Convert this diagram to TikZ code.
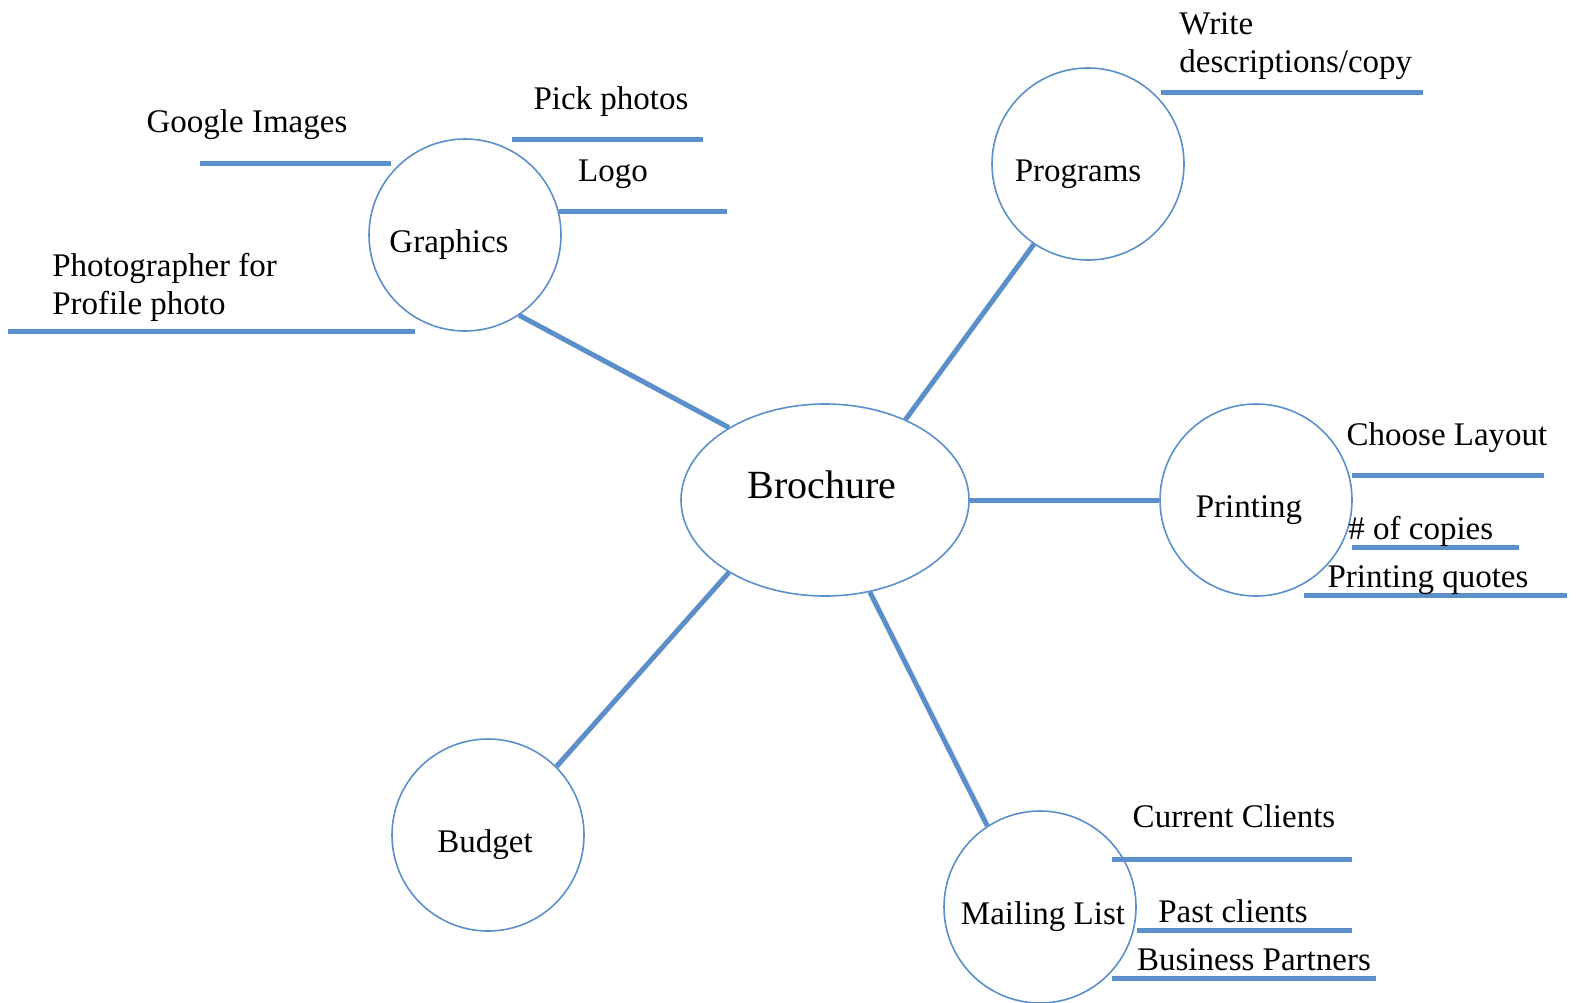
\documentclass[tikz,border=0pt]{standalone}
\usepackage{fontspec}
\setmainfont{Liberation Serif}
\usetikzlibrary{shapes}
\definecolor{mapblue}{RGB}{91,143,201}
\tikzset{
  topic/.style={draw=mapblue,line width=0.8pt,circle,minimum size=96pt,inner sep=0pt},
  hub/.style={draw=mapblue,line width=0.8pt,ellipse,minimum width=144pt,minimum height=96pt,inner sep=0pt},
  branch/.style={draw=mapblue,line width=2.5pt},
  bar/.style={draw=mapblue,line width=2.5pt},
  txt/.style={inner sep=0pt,font=\fontsize{16.5}{19}\selectfont},
  bigtxt/.style={inner sep=0pt,font=\fontsize{20}{24}\selectfont}
}

\begin{document}
\begin{tikzpicture}[x=0.5pt,y=-0.5pt]
\useasboundingbox (0,0) rectangle (1577,1002);

% main topic and sub topics:
\node[hub,label={[bigtxt,xshift=-1.5pt,yshift=7.5pt]center:Brochure}] (bro) at (825,500) {};
\node[topic,label={[txt,xshift=-8pt,yshift=-5pt]center:Graphics}] (gra) at (465,235) {};
\node[topic,label={[txt,xshift=-5pt,yshift=-5pt]center:Programs}] (pro) at (1088,164) {};
\node[topic,label={[txt,xshift=-3.5pt,yshift=-5pt]center:Printing}] (pri) at (1256,500) {};
\node[topic,label={[txt,xshift=-1.5pt,yshift=-5pt]center:Budget}] (bud) at (488,835) {};
\node[topic,label={[txt,xshift=1.5pt,yshift=-5pt]center:Mailing List}] (mai) at (1040,907) {};

% branches:
\draw[branch] (gra.-56) -- (bro.143);
\draw[branch] (pro.-124) -- (bro.45);
\draw[branch] (bro.east) -- (pri.west);
\draw[branch] (bro.-143) -- (bud.45);
\draw[branch] (bro.-64) -- (mai.123);

% graphics:
\draw[bar] (200,163) -- (391,163);
\node[txt,anchor=base] (goo) at (247,132) {Google Images};
\draw[bar] (512,139) -- (703,139);
\node[txt,anchor=base] (pic) at (611,109) {Pick photos};
\draw[bar] (559,211) -- (727,211);
\node[txt,anchor=base] (log) at (613,181) {Logo};
\draw[bar] (8,331) -- (415,331);
\node[txt,anchor=west,align=left] (pho) at (52,287) {Photographer for\\Profile photo};

% programs:
\draw[bar] (1161,92) -- (1423,92);
\node[txt,anchor=west,align=left] (wri) at (1179,46) {Write\\descriptions/copy};

% printing:
\draw[bar] (1352,475) -- (1544,475);
\node[txt,anchor=base] (lay) at (1447,445) {Choose Layout};
\draw[bar] (1352,547) -- (1519,547);
\node[txt,anchor=base west] (cop) at (1348,539) {\# of copies};
\draw[bar] (1304,595) -- (1567,595);
\node[txt,anchor=base] (quo) at (1428,587) {Printing quotes};

% mailing list:
\draw[bar] (1112,859) -- (1352,859);
\node[txt,anchor=base] (cur) at (1234,827) {Current Clients};
\draw[bar] (1137,930) -- (1352,930);
\node[txt,anchor=base] (pas) at (1233,922) {Past clients};
\draw[bar] (1112,978) -- (1376,978);
\node[txt,anchor=base] (bus) at (1254,970) {Business Partners};

\end{tikzpicture}
\end{document}
